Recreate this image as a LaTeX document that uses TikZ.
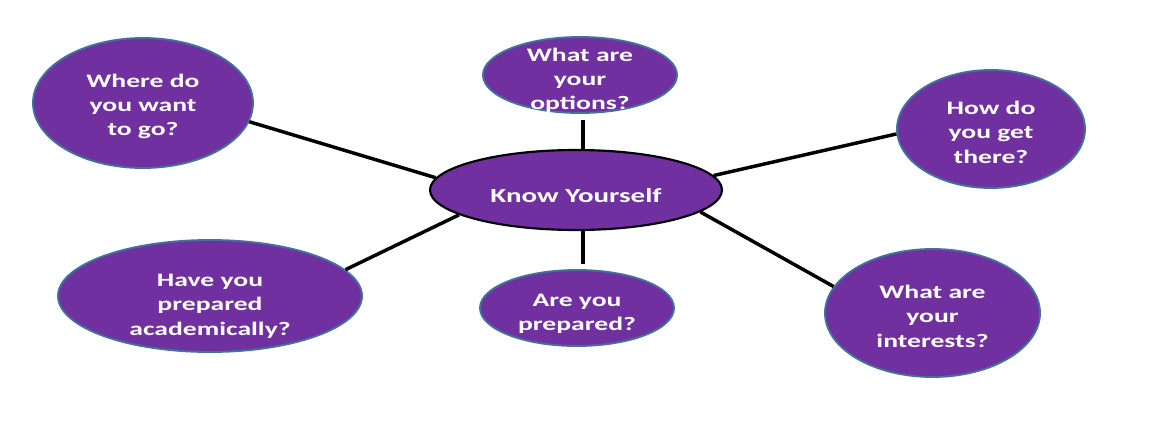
\documentclass[tikz,border=0pt]{standalone}
\usepackage{fontspec}
\setmainfont{Carlito}[FakeStretch=1.45]
\usetikzlibrary{shapes.geometric}
\definecolor{bubble}{HTML}{7030A0}
\definecolor{rim}{HTML}{41719C}
\begin{document}
\begin{tikzpicture}[x=0.75pt,y=-0.75pt,
  bub/.style={ellipse,fill=bubble,draw=rim,line width=1.4pt,inner sep=0pt},
  hub/.style={bub,draw=black,line width=1.6pt},
  txt/.style={text=white,align=center,inner sep=0pt,yshift=-2.5pt,font=\fontsize{14.3}{18.3}\selectfont\bfseries},
  hubtxt/.style={txt,yshift=-1.5pt,font=\fontsize{15}{18}\selectfont\bfseries},
  spoke/.style={line width=2.6pt,black}]
\useasboundingbox (0,0) rectangle (1150,443);
\node[hub,minimum width=219pt,minimum height=60pt,label={[hubtxt]center:Know Yourself}] (c) at (576,190) {};
\node[bub,minimum width=145.5pt,minimum height=57pt,label={[txt,yshift=-1.5pt]center:{What are\\your\\options?}}] (opt) at (580,75) {};
\node[bub,minimum width=165pt,minimum height=97.5pt,label={[txt]center:{Where do\\you want\\to go?}}] (where) at (143,103) {};
\node[bub,minimum width=141pt,minimum height=88.5pt,label={[txt]center:{How do\\you get\\there?}}] (how) at (991,129) {};
\node[bub,minimum width=161.25pt,minimum height=96pt,label={[txt]center:{What are\\your\\interests?}}] (intr) at (932.5,313) {};
\node[bub,minimum width=228pt,minimum height=84pt,label={[txt,yshift=-5pt]center:{Have you\\prepared\\academically?}}] (acad) at (210,296) {};
\node[bub,minimum width=145.5pt,minimum height=57pt,label={[txt,yshift=-2pt]center:{Are you\\prepared?}}] (prep) at (577,308) {};
\draw[spoke] (c.175) -- (where.-10.6);
\draw[spoke] (c.6) -- (how.-177.5);
\draw[spoke] (c.-10.3) -- (intr.165.9);
\draw[spoke] (c.192.2) -- (acad.11.3);
\draw[spoke] (c.80) -- ++(0,-29);
\draw[spoke] (c.-80) -- ++(0,33);
\end{tikzpicture}
\end{document}
